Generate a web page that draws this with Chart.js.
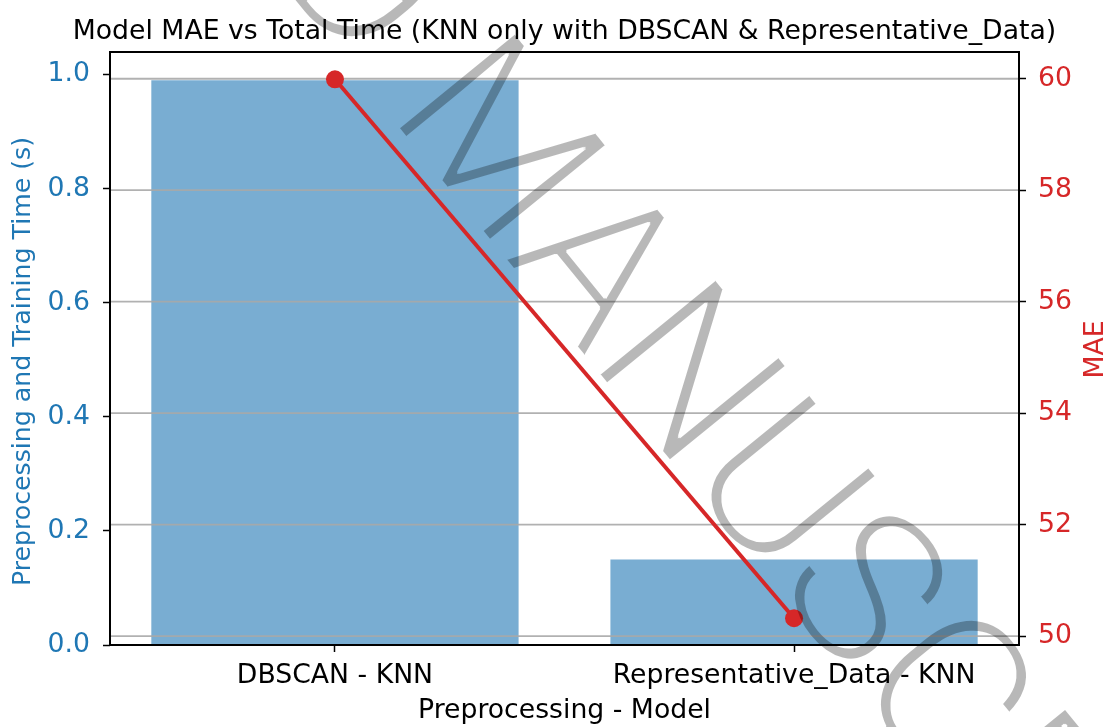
<!DOCTYPE html>
<html>
<head>
<meta charset="utf-8">
<script src="https://cdn.jsdelivr.net/npm/chart.js@4.4.1/dist/chart.umd.min.js"></script>
<style>
  html, body { margin: 0; padding: 0; background: #fff; }
  canvas { display: block; }
</style>
</head>
<body>
<canvas id="c" width="1113" height="727"></canvas>
<script>
// Categories and measured values
const categories = ['DBSCAN - KNN', 'Representative_Data - KNN'];
const totalTime = [0.99, 0.15];      // preprocessing + training time (s)
const maeValues = [59.99, 50.32];    // MAE per model

// Tick labels and axis ranges
const timeTicks = [0, 0.2, 0.4, 0.6, 0.8, 1.0];
const maeTicks = [50, 52, 54, 56, 58, 60];
const timeRange = [0, 1.0395];
const maeRange = [49.84, 60.48];
const catRange = [-0.49, 1.49];

const TITLE = 'Model MAE vs Total Time (KNN only with DBSCAN & Representative_Data)';
const BLUE = '#1f77b4';
const RED = '#d62728';
const FONT = 'DejaVu Sans';
const FS = 26.7;
const positions = categories.map((_, i) => i);

// Right-axis grid: drawn above the bars, below the MAE line
const gridOverBars = {
  id: 'gridOverBars',
  beforeDatasetDraw(chart, args) {
    if (args.meta.type !== 'line') return;
    const { ctx, chartArea: a } = chart;
    const s = chart.scales.y2;
    ctx.save();
    ctx.beginPath();
    ctx.rect(a.left, a.top, a.right - a.left, a.bottom - a.top);
    ctx.clip();
    ctx.strokeStyle = 'rgba(168,168,168,0.9)';
    ctx.lineWidth = 1.8;
    s.ticks.forEach(t => {
      const y = s.getPixelForValue(t.value);
      ctx.beginPath();
      ctx.moveTo(a.left, y);
      ctx.lineTo(a.right, y);
      ctx.stroke();
    });
    ctx.restore();
  }
};

// Axes frame
const frame = {
  id: 'frame',
  afterDatasetsDraw(chart) {
    const { ctx, chartArea: a } = chart;
    ctx.save();
    ctx.strokeStyle = '#000';
    ctx.lineWidth = 2;
    ctx.strokeRect(a.left, a.top, a.right - a.left, a.bottom - a.top);
    ctx.restore();
  }
};

// thin a glyph layer by one pixel on every side (3x3 minimum filter on alpha)
function erode(layerCtx, W, H) {
  const img = layerCtx.getImageData(0, 0, W, H);
  const d = img.data;
  const a = new Uint8ClampedArray(W * H);
  for (let i = 0; i < W * H; i++) a[i] = d[i * 4 + 3];
  const t = new Uint8ClampedArray(W * H);
  for (let y = 0; y < H; y++) {
    for (let x = 0; x < W; x++) {
      const i = y * W + x;
      let m = a[i];
      if (x > 0 && a[i - 1] < m) m = a[i - 1];
      if (x < W - 1 && a[i + 1] < m) m = a[i + 1];
      t[i] = m;
    }
  }
  for (let y = 0; y < H; y++) {
    for (let x = 0; x < W; x++) {
      const i = y * W + x;
      let m = t[i];
      if (y > 0 && t[i - W] < m) m = t[i - W];
      if (y < H - 1 && t[i + W] < m) m = t[i + W];
      d[i * 4] = 0; d[i * 4 + 1] = 0; d[i * 4 + 2] = 0;
      d[i * 4 + 3] = m;
    }
  }
  layerCtx.putImageData(img, 0, 0);
}

// Title, axis titles on both sides (reading bottom to top) and the diagonal stamp
const overlay = {
  id: 'overlay',
  afterDraw(chart) {
    const { ctx, chartArea: a } = chart;
    const midY = (a.top + a.bottom) / 2;

    ctx.save();
    ctx.font = FS + 'px "' + FONT + '"';
    ctx.fillStyle = '#000';
    ctx.textAlign = 'center';
    ctx.textBaseline = 'alphabetic';
    ctx.fillText(TITLE, (a.left + a.right) / 2, 38.6);
    ctx.restore();

    const sideTitle = (text, x, y, size, color) => {
      ctx.save();
      ctx.translate(x, y);
      ctx.rotate(-Math.PI / 2);
      ctx.font = size + 'px "' + FONT + '"';
      ctx.fillStyle = color;
      ctx.textAlign = 'center';
      ctx.textBaseline = 'middle';
      ctx.fillText(text, 0, 0);
      ctx.restore();
    };
    sideTitle('Preprocessing and Training Time (s)', 23, midY + 13, 25.2, BLUE);
    sideTitle('MAE', 1096, midY + 1, FS, RED);

    // stamp is drawn on its own layer, thinned, then laid over the chart
    const W = chart.width, H = chart.height;
    const layer = document.createElement('canvas');
    layer.width = W;
    layer.height = H;
    const w = layer.getContext('2d');
    w.font = '300 212px Roboto, "Liberation Sans", sans-serif';
    w.textAlign = 'left';
    w.textBaseline = 'alphabetic';
    const ang = 50.8 * Math.PI / 180;
    const dx = Math.cos(ang), dy = Math.sin(ang);
    const m = w.measureText('M');
    const lead = w.measureText('ACCEPTED ').width;
    const footX = 398, footY = 128;          // left foot of the M
    const penX = footX + m.actualBoundingBoxLeft * dx;
    const penY = footY + m.actualBoundingBoxLeft * dy;
    w.save();
    w.translate(penX - lead * dx, penY - lead * dy);
    w.rotate(ang);
    w.fillStyle = '#000';
    w.fillText('ACCEPTED MANUSCRIPT', 0, 0);
    w.restore();
    erode(w, W, H);

    ctx.save();
    ctx.globalAlpha = 0.28;
    ctx.drawImage(layer, 0, 0);
    ctx.restore();
  }
};

new Chart(document.getElementById('c'), {
  type: 'bar',
  data: {
    datasets: [
      {
        type: 'line',
        label: 'MAE',
        data: positions.map(i => ({ x: i, y: maeValues[i] })),
        yAxisID: 'y2',
        xAxisID: 'x',
        borderColor: RED,
        backgroundColor: RED,
        borderWidth: 4,
        pointRadius: 9,
        pointBorderWidth: 0,
        pointBackgroundColor: RED,
        order: 0
      },
      {
        type: 'bar',
        label: 'Total Time',
        data: positions.map(i => ({ x: i, y: totalTime[i] })),
        yAxisID: 'y',
        xAxisID: 'x',
        backgroundColor: 'rgba(31,119,180,0.6)',
        borderWidth: 0,
        categoryPercentage: 1.0,
        barPercentage: 0.8,
        order: 1
      }
    ]
  },
  options: {
    responsive: false,
    animation: false,
    devicePixelRatio: 1,
    layout: { padding: { top: 52, left: 0, right: 0, bottom: 0 } },
    plugins: {
      legend: { display: false },
      tooltip: { enabled: false },
      title: { display: false }
    },
    scales: {
      x: {
        type: 'linear',
        position: 'bottom',
        min: catRange[0],
        max: catRange[1],
        offset: false,
        afterBuildTicks: s => { s.ticks = positions.map(v => ({ value: v })); },
        afterFit: s => { s.height = 82; },
        ticks: {
          color: '#000',
          font: { family: FONT, size: FS },
          padding: 8,
          maxRotation: 0,
          autoSkip: false,
          callback: v => categories[v]
        },
        grid: { drawOnChartArea: false, offset: false, color: '#000', tickLength: 7, tickWidth: 1.5 },
        border: { display: false },
        title: {
          display: true,
          text: 'Preprocessing - Model',
          color: '#000',
          font: { family: FONT, size: FS },
          padding: { top: 0, bottom: 0 }
        }
      },
      y: {
        type: 'linear',
        position: 'left',
        min: timeRange[0],
        max: timeRange[1],
        afterBuildTicks: s => { s.ticks = timeTicks.map(v => ({ value: v })); },
        afterFit: s => { s.width = 110; },
        ticks: {
          color: BLUE,
          font: { family: FONT, size: FS },
          padding: 13,
          callback: v => v.toFixed(1)
        },
        grid: { drawOnChartArea: false, color: '#000', tickLength: 7, tickWidth: 1.5 },
        border: { display: false }
      },
      y2: {
        type: 'linear',
        position: 'right',
        min: maeRange[0],
        max: maeRange[1],
        afterBuildTicks: s => { s.ticks = maeTicks.map(v => ({ value: v })); },
        afterFit: s => { s.width = 94; },
        ticks: {
          color: RED,
          font: { family: FONT, size: FS },
          padding: 12,
          callback: v => String(v)
        },
        grid: { drawOnChartArea: false, color: '#000', tickLength: 7, tickWidth: 1.5 },
        border: { display: false }
      }
    }
  },
  plugins: [gridOverBars, frame, overlay]
});
</script>
</body>
</html>
